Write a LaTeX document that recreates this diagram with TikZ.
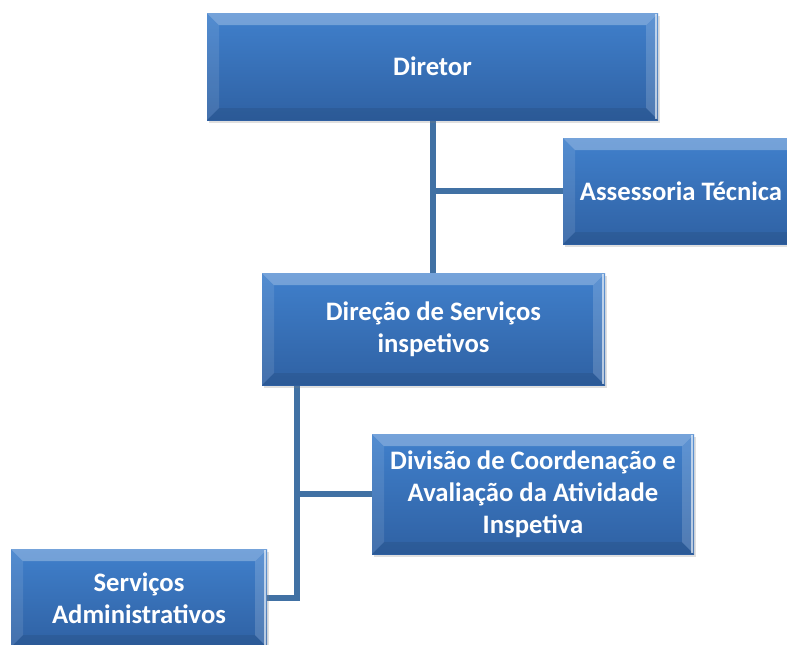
\documentclass[tikz,border=0pt]{standalone}
\usepackage{fontspec}
\setmainfont{Carlito}
\usetikzlibrary{calc,shadows,backgrounds}

\definecolor{boxtop}{RGB}{64,128,204}
\definecolor{boxbot}{RGB}{47,97,163}
\definecolor{linkblue}{RGB}{65,113,164}
\newcommand{\bev}{9pt}

\tikzset{
  orgbox/.style={rectangle, inner sep=0pt, align=center, text=white,
    font=\fontsize{20}{24}\selectfont\bfseries,
    top color=boxtop, bottom color=boxbot,
    drop shadow={shadow xshift=1.5pt, shadow yshift=-2.5pt, opacity=.25},
    path picture={
      \coordinate (bb1) at (path picture bounding box.south west);
      \coordinate (bb2) at (path picture bounding box.north east);
      \fill[white, opacity=.28] (bb1|-bb2) -- (bb2) -- ($(bb2)+(-\bev,-\bev)$) -- ($(bb1|-bb2)+(\bev,-\bev)$) -- cycle;
      \fill[white, opacity=.1] (bb1) -- (bb1|-bb2) -- ($(bb1|-bb2)+(\bev,-\bev)$) -- ($(bb1)+(\bev,\bev)$) -- cycle;
      \fill[white, opacity=.16] (bb2) -- (bb2|-bb1) -- ($(bb2|-bb1)+(-\bev,\bev)$) -- ($(bb2)+(-\bev,-\bev)$) -- cycle;
      \fill[black, opacity=.08] (bb1) -- (bb2|-bb1) -- ($(bb2|-bb1)+(-\bev,\bev)$) -- ($(bb1)+(\bev,\bev)$) -- cycle;
      \draw[white, opacity=.6, line width=1.5pt] ($(bb2)+(-1.5pt,-1pt)$) -- ($(bb2|-bb1)+(-1.5pt,1pt)$);
    }},
  link/.style={draw=linkblue, line width=4.5pt},
}

\begin{document}
\begin{tikzpicture}[x=0.75pt, y=-0.75pt]
  \useasboundingbox (0,0) rectangle (787,644);
  \clip (0,0) rectangle (787,644);

  \node[orgbox, minimum width=338.25pt, minimum height=80.25pt] (dir) at (432.5,66.5) {Diretor};
  \node[orgbox, minimum width=177pt, minimum height=79.5pt] (ast) at (681,191) {Assessoria Técnica};
  \node[orgbox, minimum width=257.25pt, minimum height=84pt] (dsi) at (433.5,329) {Direção de Serviços\\inspetivos};
  \node[orgbox, minimum width=241.5pt, minimum height=90pt] (dca) at (533,494) {Divisão de Coordenação e\\Avaliação da Atividade\\Inspetiva};
  \node[orgbox, minimum width=192pt, minimum height=73.5pt] (sad) at (139,598) {Serviços\\Administrativos};

  \coordinate (spine) at ([xshift=26.25pt]dsi.south west);

  \begin{scope}[on background layer]
    \path[link] (dir.south) -- (dir.south |- dsi.north);
    \path[link] (ast.west) -- (ast.west -| dir.south);
    \path[link] (spine) |- (sad.east);
    \path[link] (dca.west) -- (dca.west -| spine);
  \end{scope}
\end{tikzpicture}
\end{document}
